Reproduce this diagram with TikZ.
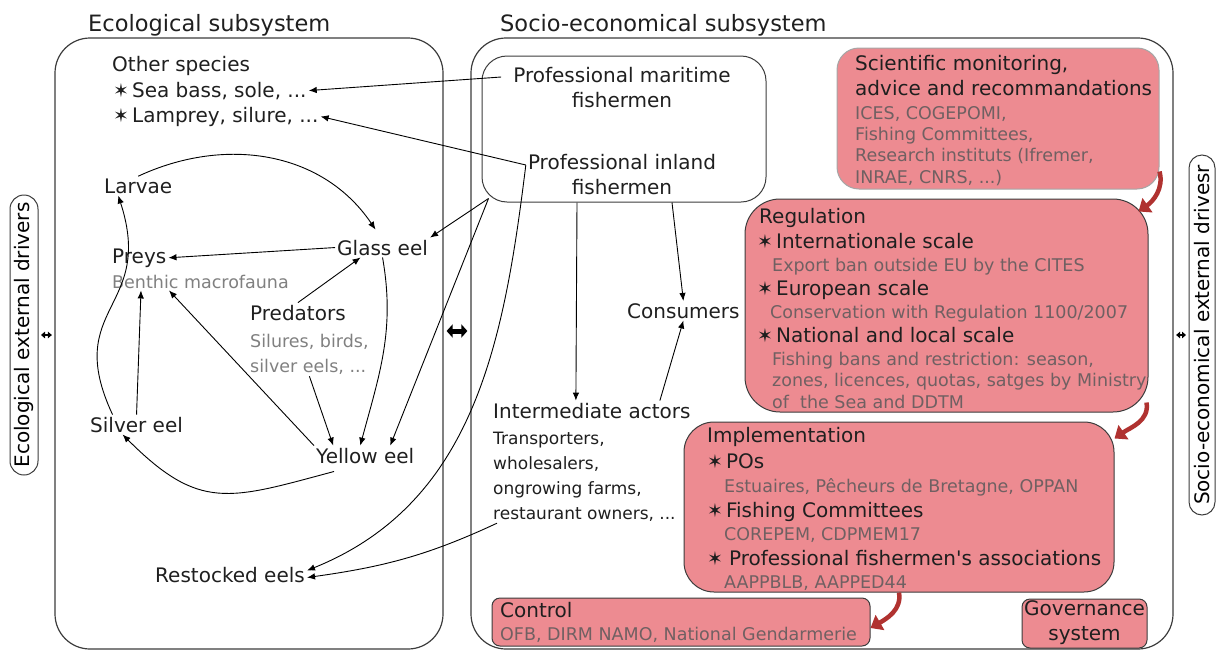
\documentclass[tikz,border=0pt]{standalone}
\usepackage{fontspec}
\setmainfont{DejaVu Sans}
\usepackage{tikz}
\usetikzlibrary{arrows}
\usetikzlibrary{arrows.meta}
\definecolor{boxpink}{RGB}{237,139,145}
\definecolor{arrowred}{RGB}{176,50,48}
\definecolor{ecogrey}{RGB}{128,128,128}
\definecolor{pinkgrey}{RGB}{112,96,98}
\definecolor{linegrey}{RGB}{60,60,60}
\tikzset{txt/.style={anchor=base west,inner sep=2pt,
                     font=\fontsize{20}{25}\selectfont,text=black!88}}
\tikzset{sub/.style={txt,font=\fontsize{17.5}{21.3}\selectfont,text=ecogrey}}
\newcommand{\stb}{{\fontsize{19}{19}\selectfont\bfseries ✶}\hspace{3pt}}

\begin{document}
\begin{tikzpicture}[x=1pt,y=-1pt]
  \useasboundingbox (0,0) rectangle (1216,651);

  \tikzstyle{pinksub}=[sub,text=pinkgrey];
  \tikzstyle{subsystem}=[draw=linegrey,line width=1.2pt,rounded corners=35pt,inner sep=0pt];
  \tikzstyle{pinkbox}=[draw=linegrey,fill=boxpink,line width=1pt,inner sep=0pt];
  \tikzstyle{sidebox}=[draw=linegrey,line width=1pt,rotate=90,inner sep=0pt,
                       font=\fontsize{20}{25}\selectfont];
  \tikzstyle{flow}=[-{Latex[length=8pt,width=6.5pt]},line width=0.9pt];
  \tikzstyle{redflow}=[-{Triangle[length=11pt,width=17pt]},line width=4.5pt,draw=arrowred];
  \tikzstyle{bothways}=[{Triangle[length=6pt,width=13pt]}-{Triangle[length=6pt,width=13pt]},
                        line width=5pt,shorten <=3pt,shorten >=3pt];
  \tikzstyle{smallways}=[{Triangle[length=4pt,width=6.5pt]}-{Triangle[length=4pt,width=6.5pt]},
                         line width=1.8pt,shorten <=2.5pt,shorten >=2.5pt];

  % the two subsystems
  \node[txt,font=\fontsize{22.5}{27}\selectfont] (eco_title) at (86,31) {Ecological subsystem};
  \node[txt,font=\fontsize{22.5}{27}\selectfont] (socio_title) at (498,31) {Socio-economical subsystem};
  \node[subsystem,minimum width=388pt,minimum height=611pt] (eco) at (249,343.5) {};
  \node[subsystem,minimum width=702pt,minimum height=611pt] (socio) at (822,343.5) {};

  \node[sidebox,rounded corners=14pt,minimum width=280pt,minimum height=28pt] (eco_drivers) at (24,335) {Ecological external drivers};
  \node[sidebox,rounded corners=13pt,minimum width=360pt,minimum height=26pt] (socio_drivers) at (1202,335) {Socio-economical external drivesr};

  % ecological part
  \node[txt] (other) at (110,71) {Other species};
  \node[txt] (sea_bass) at (111,97) {\stb Sea bass, sole, ...};
  \node[txt] (lamprey) at (111,122) {\stb Lamprey, silure, ...};
  \node[txt] (larvae) at (102,193) {Larvae};
  \node[txt] (preys) at (110,263) {Preys};
  \node[sub] (benthic) at (110,288) {Benthic macrofauna};
  \node[txt] (glass) at (335,255) {Glass eel};
  \node[txt] (predators) at (248,320) {Predators};
  \node[sub,font=\fontsize{17.5}{25}\selectfont,align=left] (predator_list) at (248,372) {Silures, birds,\\silver eels, ...};
  \node[txt] (silver) at (88,432) {Silver eel};
  \node[txt] (yellow) at (314,463) {Yellow eel};
  \node[txt] (restocked) at (153,582) {Restocked eels};

  % socio-economical part
  \node[draw=linegrey,line width=1pt,rounded corners=25pt,minimum width=284pt,minimum height=146pt] (fishers) at (624,129) {};
  \node[txt,anchor=center,align=center] (maritime) at (622,88) {Professional maritime\\fishermen};
  \node[txt,anchor=center,align=center] (inland) at (622,175) {Professional inland\\fishermen};
  \node[txt] (consumers) at (625,318) {Consumers};
  \node[txt] (intermediate) at (491,418) {Intermediate actors};
  \node[txt,font=\fontsize{17}{25}\selectfont,align=left] (intermediate_list) at (491,519) {Transporters,\\wholesalers,\\ongrowing farms,\\restaurant owners, ...};

  % governance system
  \node[pinkbox,draw=black!35,rounded corners=22pt,minimum width=322pt,minimum height=141pt] (monitoring) at (998,118.5) {};
  \node[txt] (monitoring_title) at (853,70) {Scientific monitoring,};
  \node[txt] (monitoring_title2) at (853,95) {advice and recommandations};
  \node[pinksub,align=left] (monitoring_list) at (853,183) {ICES, COGEPOMI,\\Fishing Committees,\\Research instituts (Ifremer,\\INRAE, CNRS, ...)};

  \node[pinkbox,rounded corners=35pt,minimum width=403pt,minimum height=213pt] (regulation) at (946.5,305.5) {};
  \node[txt] (regulation_title) at (757,223) {Regulation};
  \node[txt] (international) at (755,248) {\stb Internationale scale};
  \node[pinksub] (international_txt) at (770,271) {Export ban outside EU by the CITES};
  \node[txt] (european) at (755,295) {\stb European scale};
  \node[pinksub] (european_txt) at (768,318) {Conservation with Regulation 1100/2007};
  \node[txt] (national) at (755,342) {\stb National and local scale};
  \node[pinksub,align=left] (national_txt) at (770,408) {Fishing bans and restriction: season,\\zones, licences, quotas, satges by Ministry\\of\ \ the Sea and DDTM};

  \node[pinkbox,rounded corners=30pt,minimum width=430pt,minimum height=170pt] (implementation) at (899,507) {};
  \node[txt] (implementation_title) at (705,442) {Implementation};
  \node[txt] (pos) at (705,468) {\stb POs};
  \node[pinksub] (pos_txt) at (722,492) {Estuaires, Pêcheurs de Bretagne, OPPAN};
  \node[txt] (committees) at (705,517) {\stb Fishing Committees};
  \node[pinksub] (committees_txt) at (722,540) {COREPEM, CDPMEM17};
  \node[txt] (associations) at (705,565) {\stb\hspace{3pt}Professional fishermen\textquotesingle s associations};
  \node[pinksub] (associations_txt) at (722,588) {AAPPBLB, AAPPED44};

  \node[pinkbox,rounded corners=8pt,minimum width=378pt,minimum height=48pt] (control) at (681,622) {};
  \node[txt] (control_title) at (498,617) {Control};
  \node[pinksub] (control_txt) at (498,640) {OFB, DIRM NAMO, National Gendarmerie};

  \node[pinkbox,rounded corners=8pt,minimum width=125pt,minimum height=49pt] (governance) at (1084.5,623.5) {};
  \node[txt,anchor=center,align=center] (governance_txt) at (1084.5,623) {Governance\\system};

  % links between the subsystems
  \draw[bothways] ([yshift=12.5pt]eco.east) -- ([yshift=12.5pt]socio.west);
  \draw[smallways] (eco_drivers.south) -- (eco_drivers.south -| eco.west);
  \draw[smallways] (socio.east |- socio_drivers.north) -- (socio_drivers.north);

  % life cycle
  \draw (larvae.north) edge[flow,out=25,in=124] ([shift={(-7pt,8pt)}]glass.north);
  \draw (glass.west) edge[flow] (preys.east);
  \draw (predators.north) edge[flow] ([xshift=-22pt]glass.south);
  \draw (glass.south) edge[flow,out=-80,in=75] ([xshift=-5pt]yellow.north);
  \draw (predator_list.south) edge[flow] ([xshift=-32pt]yellow.north);
  \draw (yellow.north west) edge[flow] ([xshift=59pt]benthic.south west);
  \draw (silver.north) edge[flow] ([xshift=31pt]benthic.south west);
  \draw ([xshift=-24pt]silver.north) edge[flow,out=115,in=-72,looseness=1.4] ([xshift=-20pt]larvae.south);
  \draw ([shift={(20pt,-6pt)}]yellow.south west) edge[flow,out=195,in=-45,looseness=1.3] ([xshift=-14pt]silver.south);

  % fisheries
  \draw ([shift={(-10pt,11pt)}]maritime.west) edge[flow] (sea_bass.east);
  \draw ([yshift=10pt]inland.west) edge[flow] (lamprey.east);
  \draw ([yshift=10pt]inland.west) edge[flow,out=-97,in=22] ([yshift=4pt]restocked.east);
  \draw ([shift={(7pt,4pt)}]fishers.south west) edge[flow] (glass.north east);
  \draw ([shift={(7pt,4pt)}]fishers.south west) edge[flow] ([xshift=25pt]yellow.north);
  \draw ([xshift=-47pt]fishers.south) edge[flow] ([xshift=-16pt]intermediate.north);
  \draw ([xshift=48pt]fishers.south) edge[flow] (consumers.north);
  \draw ([xshift=68pt]intermediate.north) edge[flow] (consumers.south);
  \draw ([xshift=6pt]intermediate_list.south west) edge[flow,out=-155,in=8] ([yshift=-3pt]restocked.east);

  % governance chain
  \draw[redflow] ([yshift=18pt]monitoring.south east) to[out=-75,in=35] ([shift={(-10pt,-13pt)}]regulation.north east);
  \draw[redflow] ([shift={(-2pt,10pt)}]regulation.south east) to[out=-80,in=35] ([yshift=-17pt]implementation.north east);
  \draw[redflow] (implementation.south) to[out=-80,in=30] ([yshift=-6pt]control.east);
\end{tikzpicture}
\end{document}
